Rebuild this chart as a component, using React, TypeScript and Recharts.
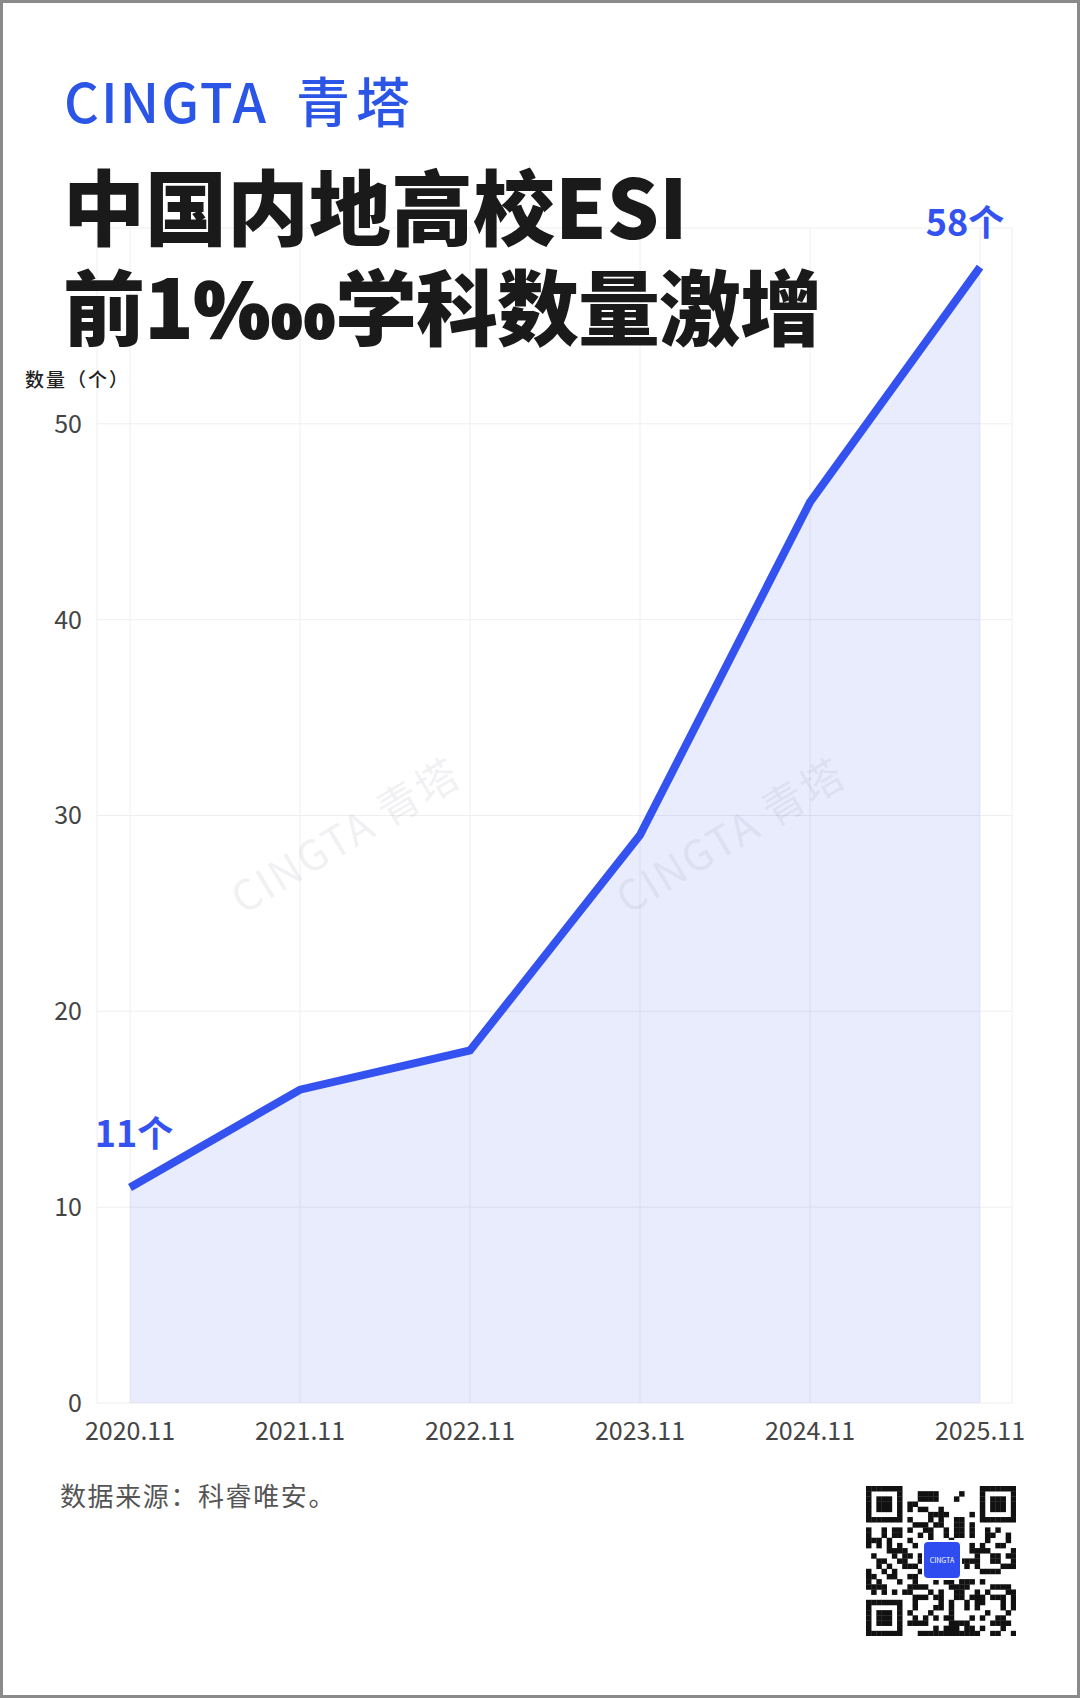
import { Area, CartesianGrid, ComposedChart, LabelList, Line, XAxis, YAxis } from 'recharts'

const years = ['2020.11', '2021.11', '2022.11', '2023.11', '2024.11', '2025.11']
const counts = [11, 16, 18, 29, 46, 58]
const yTicks = [0, 10, 20, 30, 40, 50, 60]

const BLUE = '#3452f0'
const FONT = '"Noto Sans CJK SC", "Noto Sans", sans-serif'

const data = years.map((year, i) => ({ year, count: counts[i] }))

function EndLabel(props: any) {
  const { x, y, index } = props
  if (index !== 0 && index !== counts.length - 1) return null
  const first = index === 0
  return (
    <text
      x={x + (first ? 4 : -15)}
      y={y - (first ? 57 : 47)}
      textAnchor="middle"
      dominantBaseline="central"
      fill={BLUE}
      fontSize={36}
      fontWeight={700}
      fontFamily={FONT}
    >
      {`${counts[index]}个`}
    </text>
  )
}

// decorative QR-ish block, not data
function QrBlock() {
  const n = 29
  const cell = 150 / n
  const finder = (r: number, c: number) => {
    const inBox = (r0: number, c0: number) => r >= r0 && r < r0 + 7 && c >= c0 && c < c0 + 7
    for (const [r0, c0] of [[0, 0], [0, n - 7], [n - 7, 0]]) {
      if (inBox(r0, c0)) {
        const rr = r - r0
        const cc = c - c0
        if (rr === 0 || rr === 6 || cc === 0 || cc === 6) return 1
        if (rr >= 2 && rr <= 4 && cc >= 2 && cc <= 4) return 1
        return 0
      }
      if (r >= r0 - 1 && r <= r0 + 7 && c >= c0 - 1 && c <= c0 + 7) return 0
    }
    return -1
  }
  const rects = []
  for (let r = 0; r < n; r++) {
    for (let c = 0; c < n; c++) {
      let on = finder(r, c)
      if (on === -1) on = (r * 7 + c * 13 + r * c * 3 + ((r ^ c) & 5)) % 7 < 3 ? 1 : 0
      if (on) rects.push(<rect key={`${r}-${c}`} x={c * cell} y={r * cell} width={cell + 0.3} height={cell + 0.3} fill="#111" />)
    }
  }
  return (
    <svg width={150} height={150} style={{ position: 'absolute', left: 866, top: 1486 }}>
      {rects}
      <rect x={56} y={54} width={40} height={40} rx={5} fill="#fff" />
      <rect x={58} y={56} width={36} height={36} rx={4} fill="#2f4cf0" />
      <text x={76} y={77} textAnchor="middle" fontSize={7} fill="#fff" fontFamily={FONT}>
        CINGTA
      </text>
    </svg>
  )
}

const watermark = (left: number, top: number) => (
  <div
    style={{
      position: 'absolute',
      left,
      top,
      width: 320,
      textAlign: 'center',
      transform: 'translate(-50%, -50%) rotate(-31deg)',
      fontSize: 42,
      letterSpacing: 2,
      color: 'rgba(110,110,130,0.11)',
      fontFamily: FONT,
      whiteSpace: 'nowrap',
      pointerEvents: 'none',
    }}
  >
    CINGTA 青塔
  </div>
)

export default function App() {
  return (
    <div
      style={{
        position: 'absolute',
        left: 0,
        top: 0,
        width: 1080,
        height: 1698,
        background: '#fff',
        overflow: 'hidden',
        fontFamily: FONT,
      }}
    >
      <div style={{ position: 'absolute', left: 0, top: 0 }}>
        <ComposedChart width={1080} height={1480} data={data} margin={{ top: 228, right: 68, left: 0, bottom: 27 }}>
          <CartesianGrid stroke="#eeeeee" strokeWidth={1} />
          <XAxis
            dataKey="year"
            padding={{ left: 33, right: 32 }}
            axisLine={false}
            tickLine={false}
            tickSize={6}
            tickMargin={13}
            height={50}
            interval={0}
            tick={{ fontSize: 25, fill: '#444', fontFamily: FONT }}
          />
          <YAxis
            domain={[0, 60]}
            ticks={yTicks}
            axisLine={false}
            tickLine={false}
            width={97}
            tickSize={6}
            tickMargin={9}
            tickFormatter={(v) => (v === 60 ? '' : String(v))}
            tick={{ fontSize: 25, fill: '#444', fontFamily: FONT }}
          />
          <Area
            type="linear"
            dataKey="count"
            stroke="none"
            fill={BLUE}
            fillOpacity={0.11}
            isAnimationActive={false}
          />
          <Line
            type="linear"
            dataKey="count"
            stroke={BLUE}
            strokeWidth={8}
            dot={false}
            activeDot={false}
            isAnimationActive={false}
          >
            <LabelList dataKey="count" content={EndLabel} />
          </Line>
        </ComposedChart>
      </div>

      {watermark(344, 833)}
      {watermark(729, 833)}

      <div
        style={{
          position: 'absolute',
          left: 64,
          top: 70,
          fontSize: 54,
          lineHeight: '60px',
          fontWeight: 500,
          letterSpacing: 2,
          color: '#2b55e6',
          whiteSpace: 'nowrap',
        }}
      >
        CINGTA<span style={{ marginLeft: 28, letterSpacing: 6 }}>青塔</span>
      </div>

      <div
        style={{
          position: 'absolute',
          left: 63,
          top: 154,
          fontSize: 82,
          lineHeight: '100px',
          fontWeight: 900,
          color: '#1a1a1a',
          whiteSpace: 'nowrap',
        }}
      >
        <div style={{ height: 100 }}>中国内地高校ESI</div>
        <div style={{ height: 100, letterSpacing: -1 }}>前1‱学科数量激增</div>
      </div>

      <div
        style={{
          position: 'absolute',
          left: 25,
          top: 368,
          fontSize: 19,
          lineHeight: '22px',
          fontWeight: 500,
          letterSpacing: 2,
          color: '#222',
        }}
      >
        数量（个）
      </div>

      <div
        style={{
          position: 'absolute',
          left: 60,
          top: 1480,
          fontSize: 26,
          lineHeight: '30px',
          letterSpacing: 1.6,
          color: '#555',
        }}
      >
        数据来源：科睿唯安。
      </div>

      <QrBlock />

      <div
        style={{
          position: 'absolute',
          left: 0,
          top: 0,
          width: 1080,
          height: 1698,
          boxSizing: 'border-box',
          border: '3px solid #8a8a8a',
          pointerEvents: 'none',
        }}
      />
    </div>
  )
}
